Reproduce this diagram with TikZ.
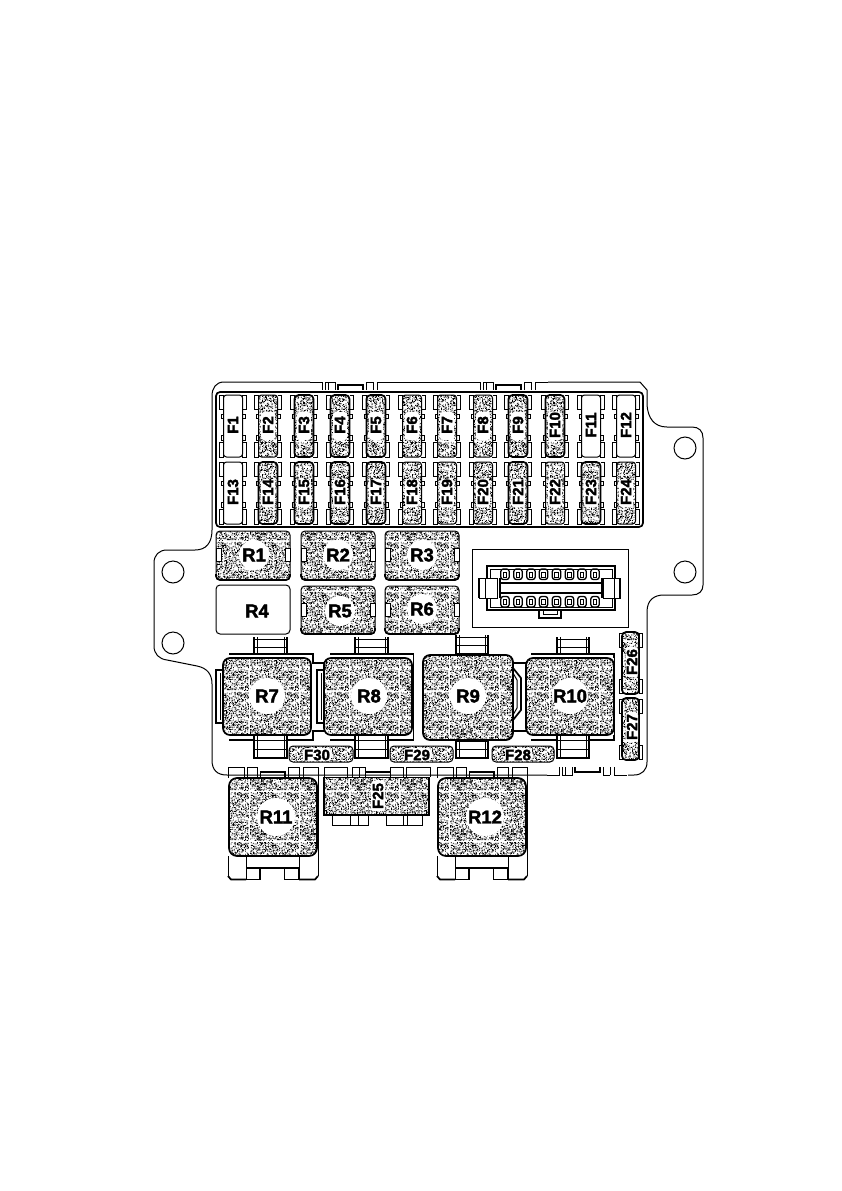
\documentclass[tikz,border=0pt]{standalone}
\usepackage{fontspec}
\setmainfont{Liberation Sans}
\newfontfamily\labf{Liberation Sans}[UprightFont=* Bold,FakeBold=2.2]
\usetikzlibrary{patterns}
\newcount\stipn
\pgfdeclarepatternformonly{stip}{\pgfqpoint{0pt}{0pt}}{\pgfqpoint{50pt}{50pt}}{\pgfqpoint{50pt}{50pt}}{%
  \pgfmathsetseed{4711}%
  \stipn=0
  \loop\ifnum\stipn<1250
    \pgfmathrandominteger{\rx}{0}{61}%
    \pgfmathrandominteger{\ry}{0}{61}%
    \pgfpathrectangle{\pgfqpoint{\rx\dimexpr 0.8pt\relax}{\ry\dimexpr 0.8pt\relax}}{\pgfqpoint{0.8pt}{0.8pt}}%
    \advance\stipn by 1
  \repeat
  \pgfusepath{fill}%
}
\tikzset{
  ln/.style={line width=1pt,black},
  hv/.style={line width=1.7pt,black},
  stipple/.style={pattern=stip,pattern color=black},
  rlab/.style={font=\fontsize{18.5}{19}\selectfont\labf,inner sep=0pt},
  flab/.style={font=\fontsize{15}{15}\selectfont\labf,inner sep=0pt},
  vlab/.style={flab,rotate=90},
  halo/.style={fill=white,draw=none,rounded corners=3pt},
}
% fuse: cx, top y, kind (0 white, 1 stipple, 2 stipple heavy), label
\newcommand{\fusebox}[4]{%
  \foreach \s in {-1,1}{
    \draw[ln] (#1+\s*9.5,#2) rectangle (#1+\s*13.5,#2+14);
    \draw[ln] (#1+\s*9.5,#2+19) rectangle (#1+\s*12,#2+23);
    \draw[ln] (#1+\s*9.5,#2+40) rectangle (#1+\s*12,#2+45);
    \draw[ln] (#1+\s*9.5,#2+47) rectangle (#1+\s*13.5,#2+62);
  }
  \ifnum#3=0
    \draw[ln,fill=white,rounded corners=3pt] (#1-9.5,#2) rectangle (#1+9.5,#2+62);
  \else
    \path[fill=white] (#1-9.5,#2) rectangle (#1+9.5,#2+62);
    \ifnum#3=1
      \draw[ln,stipple,rounded corners=3pt] (#1-9.5,#2) rectangle (#1+9.5,#2+62);
    \else
      \draw[hv,stipple,rounded corners=4pt] (#1-9.5,#2) rectangle (#1+9.5,#2+62);
    \fi
    \path[halo] (#1-7,#2+17) rectangle (#1+7,#2+45);
  \fi
  \node[vlab] (fuse#4) at (#1,#2+30) {#4};
}
% small relay
\newcommand{\smallrelay}[7]{% x0 x1 y0 y1 label lx ly
  \path[fill=white] (#1,#3) rectangle (#2,#4);
  \draw[ln,stipple,rounded corners=4pt] (#1,#3) rectangle (#2,#4);
  \draw[hv,rounded corners=4pt] (#1,#4-6) -- (#1,#4) -- (#2,#4) -- (#2,#4-6);
  \draw[ln,fill=white] (#1,#3+17) rectangle (#1+5,#3+30);
  \draw[ln,fill=white] (#2-5,#3+17) rectangle (#2,#3+30);
  \path[fill=white] (#6,#7) circle (15);
  \node[rlab] (rel#5) at (#6,#7) {#5};
}
% relay tab: x0 x1 y0 y1, three rungs
\newcommand{\reltab}[7]{%
  \draw[hv] (#1,#3) -- (#1,#4);
  \draw[hv] (#2,#3) -- (#2,#4);
  \draw[ln] (#1+3,#3) -- (#1+3,#4);
  \draw[ln] (#2-3,#3) -- (#2-3,#4);
  \draw[ln] (#1,#5) -- (#2,#5);
  \draw[ln] (#1,#6) -- (#2,#6);
  \draw[hv] (#1,#7) -- (#2,#7);
}
% big relay body
\newcommand{\bigbody}[7]{% x0 x1 y0 y1 label lx ly
  \path[fill=white] (#1,#3) rectangle (#2,#4);
  \draw[hv,stipple,rounded corners=7pt] (#1,#3) rectangle (#2,#4);
  \path[fill=white] (#6,#7) circle (18);
  \node[rlab] (rel#5) at (#6,#7) {#5};
}
% tab group on the long edges of the housing
\newcommand{\tabgroup}[3]{% x0, outer y, s
  \draw[ln] (#1,#2) -- (#1+12,#2) -- (#1+12,#2+#3*8);
  \draw[ln] (#1+15,#2+#3*8) -- (#1+15,#2) -- (#1+25,#2) -- (#1+25,#2+#3*8);
  \draw[ln] (#1+18,#2) -- (#1+18,#2+#3*8);
  \draw[hv] (#1+28,#2+#3*8) -- (#1+28,#2+#3*3) -- (#1+53,#2+#3*3) -- (#1+53,#2+#3*8);
  \draw[ln] (#1+56,#2+#3*8) -- (#1+56,#2) -- (#1+63,#2);
  \draw[ln] (#1+63,#2+#3*8) -- (#1+63,#2) ;
  \draw[ln] (#1+67,#2+#3*8) -- (#1+67,#2) -- (#1+80,#2);
}
% plug relay R11/R12
\newcommand{\plugrelay}[4]{% x0 label lx ly (width 90)
  \draw[ln] (#1,775) -- (#1,876);
  \draw[ln] (#1+90,775) -- (#1+90,876);
  \draw[hv] (#1,876) -- (#1+3,879.5) -- (#1+18,879.5);
  \draw[hv] (#1+90,876) -- (#1+87,879.5) -- (#1+71,879.5);
  \draw[ln] (#1,767) -- (#1+16,767) -- (#1+16,777);
  \draw[ln] (#1+19,777) -- (#1+19,767) -- (#1+29,767) -- (#1+29,777);
  \draw[ln] (#1+32,777) -- (#1+32,772);
  \draw[hv] (#1+32,772) -- (#1+57,772) -- (#1+57,777);
  \draw[ln] (#1+60,777) -- (#1+60,767) -- (#1+71,767) -- (#1+71,777);
  \draw[ln] (#1+75,777) -- (#1+75,767) -- (#1+90,767) -- (#1+90,775);
  \draw[ln] (#1,767) -- (#1,775);
  \path[fill=white] (#1,778) rectangle (#1+90,856);
  \draw[hv,stipple,rounded corners=8pt] (#1+1,778) rectangle (#1+89,856);
  \draw[ln] (#1+18,856) -- (#1+18,879);
  \draw[ln] (#1+71,856) -- (#1+71,879);
  \draw[hv] (#1+18,868) -- (#1+72,868);
  \draw[hv] (#1+18,879.5) -- (#1+32,879.5);
  \draw[hv] (#1+32,868) -- (#1+32,880);
  \draw[hv] (#1+56,879.5) -- (#1+71,879.5);
  \draw[ln] (#1+56,868) -- (#1+56,879);
  \draw[hv] (#1+71,868) -- (#1+71,880);
  \path[fill=white] (#3,#4) circle (19);
  \node[rlab] (rel#2) at (#3,#4) {#2};
}
\begin{document}
\begin{tikzpicture}[x=1pt,y=-1pt]
\useasboundingbox (0,0) rectangle (841,1191);
\fill[white] (0,0) rectangle (841,1191);

% housing outline
\draw[ln,rounded corners=0pt] (310,382) -- (224,382) .. controls (216,382) and (212,388) .. (212,396)
  -- (212,530) .. controls (212,543) and (206,550) .. (195,550)
  -- (167,550) .. controls (159,550) and (154,555) .. (154,563)
  -- (154,646) .. controls (154,654) and (159,659) .. (167,660)
  -- (197,666) .. controls (207,668) and (212,674) .. (212,684)
  -- (212,760) .. controls (212,770) and (217,775) .. (227,775) -- (547,775);
\draw[ln] (390,382) -- (468,382);
\draw[ln] (548,382) -- (640,382) -- (647,390) -- (647,405)
  .. controls (648,418) and (654,427) .. (667,427) -- (692,427)
  .. controls (699,427) and (703,431) .. (703,438) -- (703,585)
  .. controls (703,591) and (699,595) .. (692,595) -- (664,595)
  .. controls (654,595) and (647,600) .. (647,612) -- (647,762)
  .. controls (647,770) and (642,775) .. (634,775) -- (628,775);
\tabgroup{310}{382}{1}
\tabgroup{468}{382}{1}
\tabgroup{547}{775}{-1}

% mounting holes
\draw[ln] (173,572) circle (11);
\draw[ln] (173,643) circle (11);
\draw[ln] (685,448) circle (11);
\draw[ln] (685,572) circle (11);

% fuse panel
\draw[hv,rounded corners=4pt] (216,392) rectangle (643,527);
\fusebox{233}{395}{0}{F1}
\fusebox{268}{395}{1}{F2}
\fusebox{304}{395}{2}{F3}
\fusebox{340}{395}{2}{F4}
\fusebox{376}{395}{2}{F5}
\fusebox{412}{395}{1}{F6}
\fusebox{447}{395}{1}{F7}
\fusebox{483}{395}{1}{F8}
\fusebox{518}{395}{2}{F9}
\fusebox{555}{395}{2}{F10}
\fusebox{591}{395}{0}{F11}
\fusebox{626}{395}{0}{F12}
\fusebox{233}{462}{0}{F13}
\fusebox{268}{462}{2}{F14}
\fusebox{304}{462}{2}{F15}
\fusebox{340}{462}{2}{F16}
\fusebox{376}{462}{2}{F17}
\fusebox{412}{462}{1}{F18}
\fusebox{447}{462}{1}{F19}
\fusebox{483}{462}{1}{F20}
\fusebox{518}{462}{2}{F21}
\fusebox{555}{462}{1}{F22}
\fusebox{591}{462}{2}{F23}
\fusebox{626}{462}{1}{F24}

% small relays
\smallrelay{216}{290}{531}{580}{R1}{254}{555}
\smallrelay{301}{375}{531}{580}{R2}{338}{555}
\smallrelay{385}{459}{531}{580}{R3}{422}{555}
\draw[ln,rounded corners=4pt] (216,585) rectangle (290,634);
\node[rlab] (relR4) at (257,611) {R4};
\smallrelay{301}{375}{586}{634}{R5}{340}{611}
\smallrelay{385}{459}{586}{634}{R6}{422}{609}

% connector
\draw[ln] (472,549) rectangle (628,627);
\draw[hv] (487,578) -- (487,566) -- (615,566) -- (615,578);
\draw[hv] (487,598) -- (487,610) -- (615,610) -- (615,598);
\draw[ln] (490,578) -- (490,569) -- (612,569) -- (612,578);
\draw[ln] (490,598) -- (490,607) -- (612,607) -- (612,598);
\draw[ln,fill=white] (479,578) rectangle (497,598);
\draw[ln] (485,578) -- (485,598);
\draw[hv] (479,578) -- (479,598);
\draw[ln,fill=white] (603,578) rectangle (620,598);
\draw[ln] (614,578) -- (614,598);
\draw[hv] (620,578) -- (620,598);
\draw[hv] (500,578) -- (500,598);
\draw[hv] (602,578) -- (602,598);
\draw[hv] (500,583) rectangle (602,593);
\foreach \px in {505,518,531,543.5,556.5,569.5,582,595}{
  \draw[line width=1.3pt,rounded corners=2.5pt] (\px-4.2,569) rectangle (\px+4.2,579.5);
  \draw[ln,fill=white] (\px-1.8,572) rectangle (\px+1.8,577);
  \draw[line width=1.3pt,rounded corners=2.5pt] (\px-4.2,596.5) rectangle (\px+4.2,607);
  \draw[ln,fill=white] (\px-1.8,599.5) rectangle (\px+1.8,604.5);
}
\draw[hv] (539,610) -- (539,618) -- (561,618) -- (561,610);
\draw[ln] (543,610) -- (543,614.5) -- (557,614.5) -- (557,610);

% big relay plates and links
\draw[hv] (229,654) -- (254,654);
\draw[hv] (287,654) -- (313,654) -- (313,663) -- (324,663);
\draw[hv] (229,740) -- (254,740);
\draw[hv] (287,740) -- (313,740) -- (313,731) -- (324,731);
\draw[hv] (330,654) -- (355,654);
\draw[hv] (388,654) -- (413.5,654) -- (413.5,740) -- (388,740);
\draw[hv] (330,740) -- (355,740);
\draw[hv] (513,663) -- (526,663);
\draw[hv] (513,731) -- (526,731);
\draw[hv] (531,654) -- (557,654);
\draw[hv] (589,654) -- (614,654) -- (614,740) -- (589,740);
\draw[hv] (531,740) -- (557,740);
% side brackets
\draw[hv] (223,670) -- (216,670) -- (216,723) -- (223,723);
\draw[ln] (220,673) -- (220,720);
\draw[hv] (324,670) -- (317,670) -- (317,723) -- (324,723);
\draw[ln] (321,673) -- (321,720);
\draw[hv] (513,668) -- (521,678) -- (521,710) -- (513,720);
\draw[ln] (513,673) -- (517,680) -- (517,708) -- (513,715);
% tabs
\reltab{254}{287}{637}{655}{639}{647}{654}
\reltab{254}{287}{735}{759}{740}{749}{758}
\reltab{355}{388}{637}{655}{639}{647}{654}
\reltab{355}{388}{735}{759}{740}{749}{758}
\reltab{456}{488}{635}{655}{637}{645}{654}
\reltab{456}{488}{740}{759}{741}{749}{758}
\reltab{557}{589}{637}{655}{639}{647}{654}
\reltab{557}{589}{735}{759}{740}{749}{758}
% bodies
\bigbody{223}{311}{658}{735}{R7}{267}{696}
\bigbody{324}{412}{658}{735}{R8}{369}{696}
\bigbody{423}{513}{655}{740}{R9}{468}{696}
\bigbody{526}{614}{658}{735}{R10}{570}{696}
\draw[line width=2.2pt] (423,683) -- (423,710);

% horizontal fuses
\draw[ln,stipple,rounded corners=4pt] (289,746) rectangle (353,762);
\path[halo] (303,748) rectangle (331,761);
\node[flab] (fuseF30) at (317,755) {F30};
\draw[ln,stipple,rounded corners=4pt] (390,746) rectangle (453,762);
\path[halo] (404,748) rectangle (431,761);
\node[flab] (fuseF29) at (417,755) {F29};
\draw[ln,stipple,rounded corners=4pt] (492,746) rectangle (554,762);
\path[halo] (505,748) rectangle (532,761);
\node[flab] (fuseF28) at (518,755) {F28};

% right vertical fuses
\foreach \ya/\yb/\lab/\yc in {632/694/F26/662,698/760/F27/727}{
  \draw[ln] (619,\ya+1) rectangle (622,\ya+15);
  \draw[ln] (639,\ya+1) rectangle (642,\ya+15);
  \draw[ln] (619,\yb-15) rectangle (622,\yb-1);
  \draw[ln] (639,\yb-15) rectangle (642,\yb-1);
  \draw[hv,stipple,rounded corners=4pt] (622,\ya) rectangle (639,\yb);
  \path[halo] (625.5,\yc-15) rectangle (638,\yc+15);
  \node[vlab] (fuse\lab) at (632,\yc) {\lab};
}

% plug relays
\plugrelay{228}{R11}{276}{817}
\plugrelay{437}{R12}{485}{817}

% F25 block
\draw[ln] (324,777) -- (324,767) -- (347,767) -- (347,777);
\draw[ln] (352,777) -- (352,767) -- (365,767) -- (365,777);
\draw[ln] (359,767) -- (359,777);
\draw[hv] (365,772) -- (390,772);
\draw[ln] (390,777) -- (390,767) -- (403,767) -- (403,777);
\draw[ln] (406,777) -- (406,767) -- (430,767) -- (430,777);
\path[fill=white] (324,777) rectangle (429,815);
\draw[ln,stipple] (324,777) rectangle (429,815);
\draw[hv] (324,777) -- (324,815) -- (429,815) -- (429,777);
\draw[ln] (332,815) -- (332,825) -- (368,825) -- (368,815);
\draw[ln] (350,815) -- (350,825);
\draw[ln] (358,815) -- (358,825);
\draw[ln] (386,815) -- (386,825) -- (422,825) -- (422,815);
\draw[ln] (403,815) -- (403,825);
\draw[ln] (407,815) -- (407,825);
\path[halo] (371,781) rectangle (385,811);
\node[vlab] (fuseF25) at (378,796) {F25};
\end{tikzpicture}
\end{document}
